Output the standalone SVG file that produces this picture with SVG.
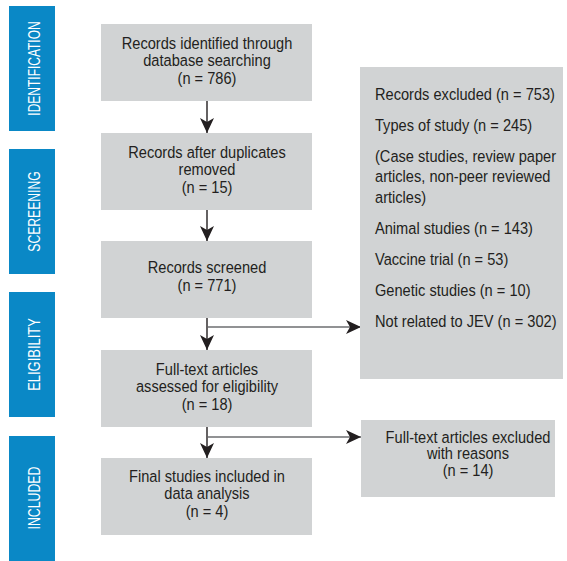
<svg xmlns="http://www.w3.org/2000/svg" width="567" height="561" viewBox="0 0 567 561">
<style>
.bar{fill:#0a88c6}
.lbl{font-family:"Liberation Sans",Arial,sans-serif;font-size:16px;fill:#ffffff;text-anchor:middle}
.box{fill:#d1d3d4}
.t{font-family:"Liberation Sans",Arial,sans-serif;font-size:17px;fill:#231f20}
.c{text-anchor:middle}
.shaft{stroke:#231f20;stroke-width:1.4;fill:none}
.side{stroke:#6d6e71;stroke-width:1.4;fill:none}
</style>
<defs>
<marker id="ah" markerUnits="userSpaceOnUse" markerWidth="15" markerHeight="14" viewBox="0 0 15 14" refX="15" refY="7" orient="auto">
<path d="M0,0 L15,7 L0,14 L4,7 z" fill="#231f20"/>
</marker>
</defs>
<g id="stage-identification"><rect class="bar" x="9" y="6" width="46" height="125"/><text class="lbl" transform="translate(40 68.5) rotate(-90) scale(0.75 1)" x="0" y="0">IDENTIFICATION</text></g>
<g id="stage-screening"><rect class="bar" x="9" y="149" width="46" height="125"/><text class="lbl" transform="translate(40 211.5) rotate(-90) scale(0.76 1)" x="0" y="0">SCEREENING</text></g>
<g id="stage-eligibility"><rect class="bar" x="9" y="292" width="46" height="125"/><text class="lbl" transform="translate(40 354.5) rotate(-90) scale(0.81 1)" x="0" y="0">ELIGIBILITY</text></g>
<g id="stage-included"><rect class="bar" x="9" y="436" width="46" height="125"/><text class="lbl" transform="translate(40 498) rotate(-90) scale(0.77 1)" x="0" y="0">INCLUDED</text></g>
<g id="connectors">
<line class="shaft" x1="207" y1="101" x2="207" y2="133" marker-end="url(#ah)"/>
<line class="shaft" x1="207" y1="210" x2="207" y2="241" marker-end="url(#ah)"/>
<line class="shaft" x1="207" y1="318" x2="207" y2="350" marker-end="url(#ah)"/>
<line class="shaft" x1="207" y1="427" x2="207" y2="458" marker-end="url(#ah)"/>
<line class="side" x1="208" y1="327" x2="361" y2="327" marker-end="url(#ah)"/>
<line class="side" x1="208" y1="437" x2="361" y2="437" marker-end="url(#ah)"/>
</g>
<g id="identified"><rect class="box" x="101" y="24" width="211" height="77"/>
<g transform="translate(207 0) scale(0.86 1)"><text class="t c" x="0" y="49">Records identified through</text><text class="t c" x="0" y="66.5">database searching</text><text class="t c" x="0" y="84">(n = 786)</text></g></g>
<g id="duplicates"><rect class="box" x="101" y="133" width="211" height="77"/>
<g transform="translate(207 0) scale(0.86 1)"><text class="t c" x="0" y="158">Records after duplicates</text><text class="t c" x="0" y="175.5">removed</text><text class="t c" x="0" y="193">(n = 15)</text></g></g>
<g id="screened"><rect class="box" x="101" y="241" width="211" height="77"/>
<g transform="translate(207 0) scale(0.86 1)"><text class="t c" x="0" y="273">Records screened</text><text class="t c" x="0" y="291">(n = 771)</text></g></g>
<g id="eligibility"><rect class="box" x="101" y="350" width="211" height="77"/>
<g transform="translate(207 0) scale(0.86 1)"><text class="t c" x="0" y="375">Full-text articles</text><text class="t c" x="0" y="392.5">assessed for eligibility</text><text class="t c" x="0" y="410">(n = 18)</text></g></g>
<g id="included"><rect class="box" x="101" y="458" width="211" height="77"/>
<g transform="translate(207 0) scale(0.86 1)"><text class="t c" x="0" y="482">Final studies included in</text><text class="t c" x="0" y="499.5">data analysis</text><text class="t c" x="0" y="517">(n = 4)</text></g></g>
<g id="excluded"><rect class="box" x="360" y="67" width="203" height="312"/>
<g transform="translate(375 0) scale(0.86 1)">
<text class="t" x="0" y="100">Records excluded (n = 753)</text>
<text class="t" x="0" y="131">Types of study (n = 245)</text>
<text class="t" x="0" y="162">(Case studies, review paper</text>
<text class="t" x="0" y="182.5">articles, non-peer reviewed</text>
<text class="t" x="0" y="203">articles)</text>
<text class="t" x="0" y="234">Animal studies (n = 143)</text>
<text class="t" x="0" y="265">Vaccine trial (n = 53)</text>
<text class="t" x="0" y="296">Genetic studies (n = 10)</text>
<text class="t" x="0" y="327">Not related to JEV (n = 302)</text>
</g></g>
<g id="fulltext-excluded"><rect class="box" x="361" y="420" width="194" height="77"/>
<g transform="translate(468 0) scale(0.86 1)"><text class="t c" x="0" y="443">Full-text articles excluded</text><text class="t c" x="0" y="459.5">with reasons</text><text class="t c" x="0" y="476">(n = 14)</text></g></g>
</svg>
